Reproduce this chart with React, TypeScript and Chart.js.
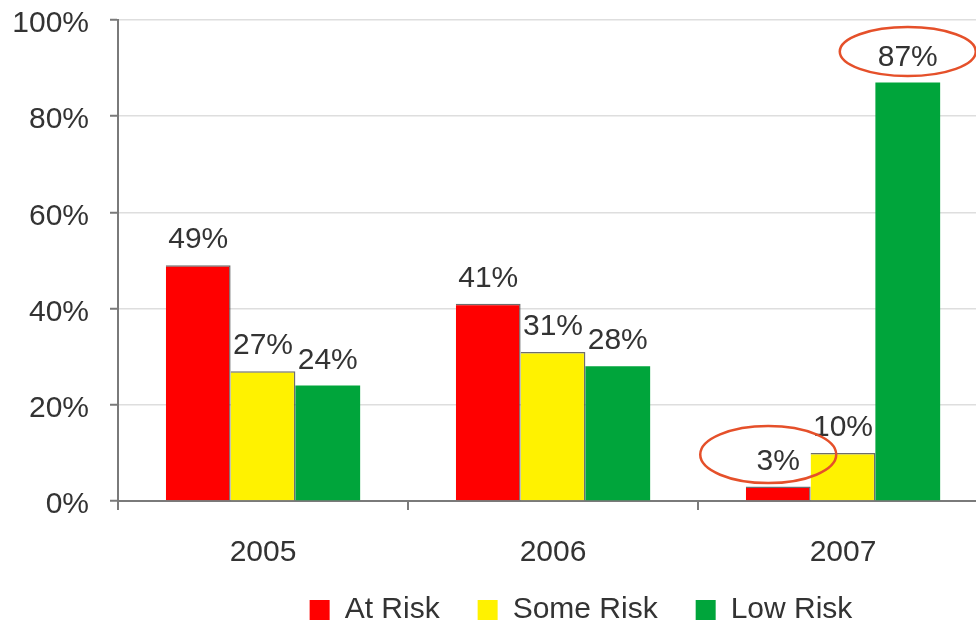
import { useEffect, useRef } from "react";
import { Chart, registerables } from "chart.js";

Chart.register(...registerables);

const categories = ["2005", "2006", "2007"];
const seriesNames = ["At Risk", "Some Risk", "Low Risk"];
const atRisk = [49, 41, 3];
const someRisk = [27, 31, 10];
const lowRisk = [24, 28, 87];
const yTickValues = [0, 20, 40, 60, 80, 100];

const FONT = '"Liberation Sans", Arial, Helvetica, sans-serif';
const TEXT = "#333333";
const FS = 30;

const valueLabels = {
  id: "valueLabels",
  afterDatasetsDraw(chart: any, _args: any, opts: any) {
    const ctx = chart.ctx;
    ctx.save();
    ctx.font = `${opts.size}px ${FONT}`;
    ctx.fillStyle = opts.color;
    ctx.textAlign = "center";
    ctx.textBaseline = "alphabetic";
    chart.data.datasets.forEach((ds: any, di: number) => {
      const meta = chart.getDatasetMeta(di);
      meta.data.forEach((bar: any, i: number) => {
        ctx.fillText(`${ds.data[i]}%`, bar.x, bar.y - opts.gap);
      });
    });
    ctx.strokeStyle = opts.ellipseColor;
    ctx.lineWidth = opts.ellipseWidth;
    (opts.ellipses || []).forEach((e: any) => {
      const bar = chart.getDatasetMeta(e.datasetIndex).data[e.index];
      ctx.beginPath();
      ctx.ellipse(bar.x + e.dx, bar.y - opts.gap - e.dy, e.rx, e.ry, 0, 0, Math.PI * 2);
      ctx.stroke();
    });
    ctx.restore();
  },
};

const legendPlace = {
  id: "legendPlace",
  afterLayout(chart: any, _args: any, opts: any) {
    const lg = chart.legend;
    if (!lg) return;
    const dx = opts.center - (lg.left + lg.right) / 2;
    lg.left += dx;
    lg.right += dx;
    const dy = opts.top - lg.top;
    lg.top += dy;
    lg.bottom += dy;
  },
};

export default function App() {
  const ref = useRef<HTMLCanvasElement | null>(null);

  useEffect(() => {
    document.body.style.overflow = "hidden";
    const canvas = ref.current!;
    const edge = "rgba(60,60,60,0.75)";
    const chart = new Chart(canvas, {
      type: "bar",
      data: {
        labels: categories,
        datasets: [
          {
            label: seriesNames[0],
            data: atRisk,
            backgroundColor: "#ff0000",
            borderColor: edge,
            borderWidth: { top: 1.5, right: 1.5, left: 0, bottom: 0 },
          },
          {
            label: seriesNames[1],
            data: someRisk,
            backgroundColor: "#fff200",
            borderColor: edge,
            borderWidth: { top: 1.5, right: 1.5, left: 0, bottom: 0 },
          },
          {
            label: seriesNames[2],
            data: lowRisk,
            backgroundColor: "#00a53b",
            borderWidth: 0,
          },
        ],
      },
      options: {
        responsive: false,
        animation: false,
        devicePixelRatio: 1,
        layout: { padding: { left: 0, right: 174, top: 20, bottom: 0 } },
        datasets: {
          bar: { categoryPercentage: 0.67, barPercentage: 1 },
        },
        scales: {
          x: {
            grid: {
              offset: true,
              drawOnChartArea: false,
              drawTicks: true,
              tickLength: 9,
              tickColor: "#7a7a7a",
              lineWidth: 2,
            },
            border: { display: true, color: "#7a7a7a", width: 2 },
            ticks: {
              color: TEXT,
              padding: 25,
              font: { size: FS, family: FONT },
            },
            afterFit: (s: any) => {
              s.height = 70;
            },
          },
          y: {
            min: 0,
            max: 100,
            afterBuildTicks: (s: any) => {
              s.ticks = yTickValues.map((v) => ({ value: v }));
            },
            grid: {
              color: "#dedede",
              lineWidth: 1.5,
              tickLength: 8,
              tickColor: "#7a7a7a",
              tickWidth: 2,
            },
            border: { display: true, color: "#7a7a7a", width: 2 },
            ticks: {
              color: TEXT,
              padding: 21,
              labelOffset: 4,
              font: { size: FS, family: FONT },
              callback: (v: any) => `${v}%`,
            },
            afterFit: (s: any) => {
              s.width = 118;
              s.paddingTop = 0;
              s.paddingBottom = 0;
            },
          },
        },
        plugins: {
          legend: {
            position: "bottom",
            labels: {
              color: TEXT,
              boxWidth: 20,
              boxHeight: 20,
              padding: 38,
              font: { size: FS, family: FONT },
              generateLabels: (c: any) =>
                Chart.defaults.plugins.legend.labels
                  .generateLabels(c)
                  .map((l: any) => ({ ...l, lineWidth: 0, strokeStyle: "transparent" })),
            },
          },
          legendPlace: { center: 581, top: 557 },
          tooltip: { enabled: false },
          valueLabels: {
            size: FS,
            color: TEXT,
            gap: 17,
            ellipseColor: "#e5502a",
            ellipseWidth: 2.5,
            ellipses: [
              { datasetIndex: 0, index: 2, dx: -10, dy: 15, rx: 68, ry: 28.5 },
              { datasetIndex: 2, index: 2, dx: 0, dy: 14, rx: 68, ry: 24.5 },
            ],
          },
        } as any,
      },
      plugins: [valueLabels, legendPlace],
    });
    return () => chart.destroy();
  }, []);

  return (
    <div
      style={{
        position: "fixed",
        left: 0,
        top: 0,
        width: 1162,
        height: 649,
        background: "#ffffff",
      }}
    >
      <canvas ref={ref} width={1162} height={649} style={{ display: "block" }} />
    </div>
  );
}
